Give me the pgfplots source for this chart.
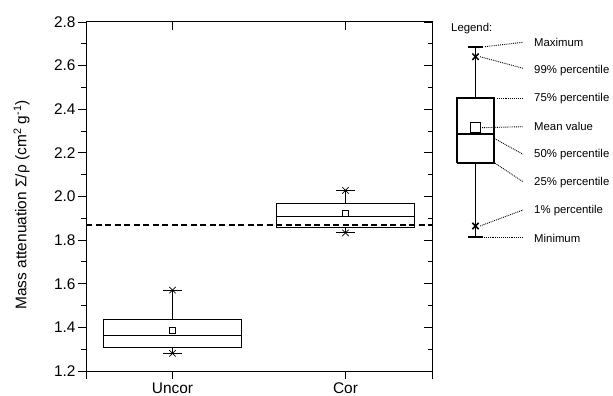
\documentclass[border=0pt]{standalone}
\usepackage{pgfplots}
\pgfplotsset{compat=1.18}
\usepackage{fontspec}
\setmainfont{Liberation Sans}
\begin{document}
\begin{tikzpicture}
\path[use as bounding box] (0,0) rectangle (613bp,396bp);
% main axis
\begin{axis}[at={(86bp,25bp)}, anchor=south west, scale only axis,
  width=346bp, height=349bp,
  xmin=0.5, xmax=2.5, ymin=1.2, ymax=2.8,
  xtick={0.5,1,2,2.5}, xticklabels={,Uncor,Cor,},
  ytick={1.2,1.4,...,2.81},
  minor y tick num=1,
  tick pos=left, tick align=outside,
  major tick length=8bp, minor tick length=4.5bp,
  axis line style={line width=1pt},
  every tick/.style={black, line width=0.9pt},
  tick label style={font=\fontsize{15.5}{17}\selectfont},
  yticklabel style={xshift=1bp},
  /pgf/number format/assume math mode=true,
  /pgf/number format/fixed, /pgf/number format/fixed zerofill, /pgf/number format/precision=1,
  every axis y label/.style={at={(rel axis cs:-0.186,0.476)}, rotate=90, anchor=center},
  ylabel={\fontsize{15.5}{17}\selectfont Mass attenuation Σ/ρ (cm\textsuperscript{2} g\textsuperscript{-1})},
  unbounded coords=jump,
]
\addplot[black, line width=2pt, dash pattern=on 6bp off 3.5bp] coordinates {(0.5,1.871) (2.5,1.871)};
% Uncor box
\addplot[black, line width=0.9pt, mark=none] coordinates {
  (0.6,1.307) (1.4,1.307) (1.4,1.438) (0.6,1.438) (0.6,1.307)
  (nan,nan) (0.6,1.361) (1.4,1.361)
  (nan,nan) (1,1.438) (1,1.571)
  (nan,nan) (0.945,1.571) (1.055,1.571)
  (nan,nan) (1,1.307) (1,1.281)
  (nan,nan) (0.945,1.281) (1.055,1.281)};
% Cor box
\addplot[black, line width=0.9pt, mark=none] coordinates {
  (1.6,1.856) (2.4,1.856) (2.4,1.966) (1.6,1.966) (1.6,1.856)
  (nan,nan) (1.6,1.909) (2.4,1.909)
  (nan,nan) (2,1.966) (2,2.028)
  (nan,nan) (1.945,2.028) (2.055,2.028)
  (nan,nan) (2,1.856) (2,1.833)
  (nan,nan) (1.945,1.833) (2.055,1.833)};
\addplot[only marks, mark=square, mark size=3bp, black, line width=0.8pt] coordinates {(1,1.384) (2,1.923)};
\addplot[only marks, mark=x, mark size=4.5bp, black, line width=0.8pt] coordinates {(1,1.571) (1,1.281) (2,2.028) (2,1.833)};
\end{axis}
% mirror ticks (right, top) pointing inward
\begin{axis}[at={(86bp,25bp)}, anchor=south west, scale only axis,
  width=346bp, height=349bp,
  xmin=0.5, xmax=2.5, ymin=1.2, ymax=2.8,
  xtick={1,2}, xticklabels={},
  ytick={1.2,1.4,...,2.81}, yticklabels={},
  minor y tick num=1,
  tick pos=right, tick align=inside,
  major tick length=8bp, minor tick length=4.5bp,
  axis line style={line width=1pt},
  every tick/.style={black, line width=0.9pt},
]
\end{axis}
% legend illustration
\begin{axis}[at={(0bp,0bp)}, anchor=south west, scale only axis,
  width=613bp, height=396bp, xmin=0, xmax=613, ymin=0, ymax=396,
  axis lines=none, clip=false, unbounded coords=jump]
\addplot[black, line width=1.8pt, mark=none] coordinates {
  (457.2,233.3) (493.8,233.3) (493.8,297.7) (457.2,297.7) (457.2,233.3)
  (nan,nan) (457.2,261.7) (493.8,261.7)
  (nan,nan) (475.5,297.7) (475.5,349.3)
  (nan,nan) (468,349.3) (483,349.3)
  (nan,nan) (475.5,233.3) (475.5,158.7)
  (nan,nan) (468,158.7) (483,158.7)};
\addplot[only marks, mark=square, mark size=5.2bp, black, line width=1.5pt] coordinates {(475.5,268.3)};
\addplot[only marks, mark=x, mark size=4.5bp, black, line width=1.5pt] coordinates {(475.5,339.3) (475.5,170)};
\begin{scope}[densely dotted, line width=0.9pt]
\draw (axis cs:485,349.3) -- (axis cs:523,353.7);
\draw (axis cs:480,339.3) -- (axis cs:523,327.7);
\draw (axis cs:497,297.7) -- (axis cs:523,297.7);
\draw (axis cs:482,268.3) -- (axis cs:523,269.3);
\draw (axis cs:493,258.3) -- (axis cs:523,241.7);
\draw (axis cs:495,232.7) -- (axis cs:523,214.3);
\draw (axis cs:480,170) -- (axis cs:523,186);
\draw (axis cs:484,158.7) -- (axis cs:523,158.7);
\end{scope}
\begin{scope}[every node/.style={anchor=west, inner sep=0pt, font=\fontsize{11.4}{13}\selectfont}]
\node at (axis cs:451,367) {Legend:};
\node at (axis cs:534,353.7) {Maximum};
\node at (axis cs:534,325) {99\% percentile};
\node at (axis cs:534,297) {75\% percentile};
\node at (axis cs:534,269.3) {Mean value};
\node at (axis cs:534,241.7) {50\% percentile};
\node at (axis cs:534,213.7) {25\% percentile};
\node at (axis cs:534,185.3) {1\% percentile};
\node at (axis cs:534,157.7) {Minimum};
\end{scope}
\end{axis}
\end{tikzpicture}
\end{document}
